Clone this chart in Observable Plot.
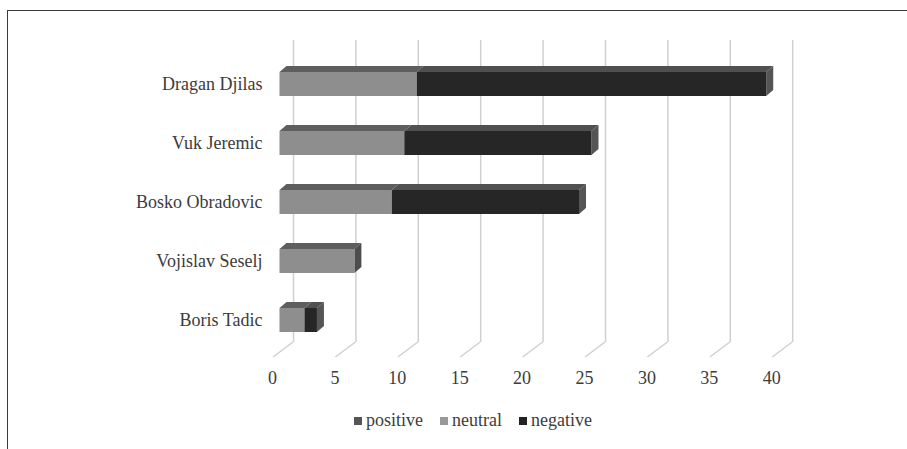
<!DOCTYPE html>
<html>
<head>
<meta charset="utf-8">
<script src="https://cdn.jsdelivr.net/npm/d3@7"></script>
<script src="https://cdn.jsdelivr.net/npm/@observablehq/plot@0.6"></script>
<style>
  html, body { margin: 0; padding: 0; background: #fff; }
  body { width: 907px; height: 449px; position: relative; overflow: hidden;
         font-family: "Liberation Serif", "Times New Roman", serif; color: #3c3c3c; }
  #frame { position: absolute; left: 7px; top: 10px; width: 1000px; height: 1000px;
           border-top: 1px solid #3a3a3a; border-left: 1px solid #3a3a3a; }
  #chart { position: absolute; left: 0; top: 0; }
  #legend { position: absolute; left: 354px; top: 410px; display: flex; align-items: center;
            font-size: 18px; color: #3c3c3c; white-space: nowrap; }
  #legend .item { display: flex; align-items: center; margin-right: 17px; }
  #legend .sw { width: 8px; height: 8px; margin-right: 4px; }
</style>
</head>
<body>
<div id="frame"></div>
<div id="chart"></div>
<div id="legend"></div>
<script>
// Candidates and number of articles by tone
const candidates = ["Dragan Djilas", "Vuk Jeremic", "Bosko Obradovic", "Vojislav Seselj", "Boris Tadic"];
const positive = [0, 0, 0, 0, 0];
const neutral = [11, 10, 9, 6, 2];
const negative = [28, 15, 15, 0, 1];
const series = ["positive", "neutral", "negative"];
const xTicks = [0, 5, 10, 15, 20, 25, 30, 35, 40];

// Face colours for the extruded bars
const frontColors = ["#595959", "#8e8e8e", "#262626"];
const topColors = {positive: "#4a4a4a", neutral: "#5e5e5e", negative: "#505050"};
const sideColors = {positive: "#3e3e3e", neutral: "#4d4d4d", negative: "#555555"};
const legendColors = ["#555555", "#999999", "#222222"];

// Stack the series along x for each candidate
const values = [positive, neutral, negative];
const segments = [];
const ends = [];
candidates.forEach((name, i) => {
  let x0 = 0, last = null;
  values.forEach((vals, k) => {
    const v = vals[i];
    if (v > 0) {
      segments.push({name, series: series[k], x1: x0, x2: x0 + v});
      last = series[k];
    }
    x0 += v;
  });
  ends.push({name, total: x0, series: last});
});

const W = 907, H = 400;
const DEPTH_X = 7, DEPTH_Y = 6;        // bar extrusion, px
const WALL_DX = 13.5;                  // back wall offset from bar plane, px
const FLOOR_DX = -20, FLOOR_DY = 15;   // floor edge from wall foot, px

// Top and side faces of each bar plus the floor edges of the wall gridlines
function depthFaces(index, scales, channels, dimensions) {
  const x = scales.x, y = scales.y, bw = y.bandwidth();
  const g = d3.create("svg:g");
  const bottom = dimensions.height - dimensions.marginBottom;
  g.selectAll("line.floor").data(xTicks).join("line")
    .attr("class", "floor")
    .attr("x1", d => x(d) + WALL_DX).attr("y1", bottom)
    .attr("x2", d => x(d) + WALL_DX + FLOOR_DX).attr("y2", bottom + FLOOR_DY)
    .attr("stroke", "#d0d0d0").attr("stroke-width", 1.5);
  g.selectAll("path.top").data(segments).join("path")
    .attr("class", "top")
    .attr("fill", d => topColors[d.series])
    .attr("d", d => {
      const yt = y(d.name), a = x(d.x1), b = x(d.x2);
      return `M${a},${yt}L${b},${yt}L${b + DEPTH_X},${yt - DEPTH_Y}L${a + DEPTH_X},${yt - DEPTH_Y}Z`;
    });
  g.selectAll("path.side").data(ends.filter(d => d.total > 0)).join("path")
    .attr("class", "side")
    .attr("fill", d => sideColors[d.series])
    .attr("d", d => {
      const yt = y(d.name), b = x(d.total);
      return `M${b},${yt}L${b + DEPTH_X},${yt - DEPTH_Y}L${b + DEPTH_X},${yt + bw - DEPTH_Y}L${b},${yt + bw}Z`;
    });
  return g.node();
}

const chart = Plot.plot({
  width: W,
  height: H,
  marginTop: 40,
  marginBottom: 58,
  marginLeft: 279.5,
  marginRight: 128.3,
  style: {fontFamily: "'Liberation Serif', 'Times New Roman', serif", fontSize: "18px", color: "#3c3c3c", background: "transparent"},
  x: {domain: [0, 40], axis: null},
  y: {domain: candidates, range: [52.56, 351.94], paddingInner: 0.6, paddingOuter: 0.3, align: 0.5, axis: null},
  color: {domain: series, range: frontColors},
  marks: [
    Plot.ruleX(xTicks, {x: d => d, dx: WALL_DX, stroke: "#d0d0d0", strokeWidth: 1.5}),
    depthFaces,
    Plot.barX(segments, {y: "name", x1: "x1", x2: "x2", fill: "series"}),
    Plot.text(candidates, {y: d => d, frameAnchor: "left", dx: -17.5, textAnchor: "end", text: d => d, fill: "#3c3c3c", fontSize: 18}),
    Plot.text(xTicks, {x: d => d, frameAnchor: "bottom", dy: 41, dx: -7.5, text: d => String(d), fill: "#3c3c3c", fontSize: 18})
  ]
});
document.getElementById("chart").appendChild(chart);

// Legend below the chart
const legend = d3.select("#legend");
series.forEach((s, k) => {
  const item = legend.append("div").attr("class", "item");
  item.append("div").attr("class", "sw").style("background", legendColors[k]);
  item.append("span").text(s);
});
</script>
</body>
</html>
